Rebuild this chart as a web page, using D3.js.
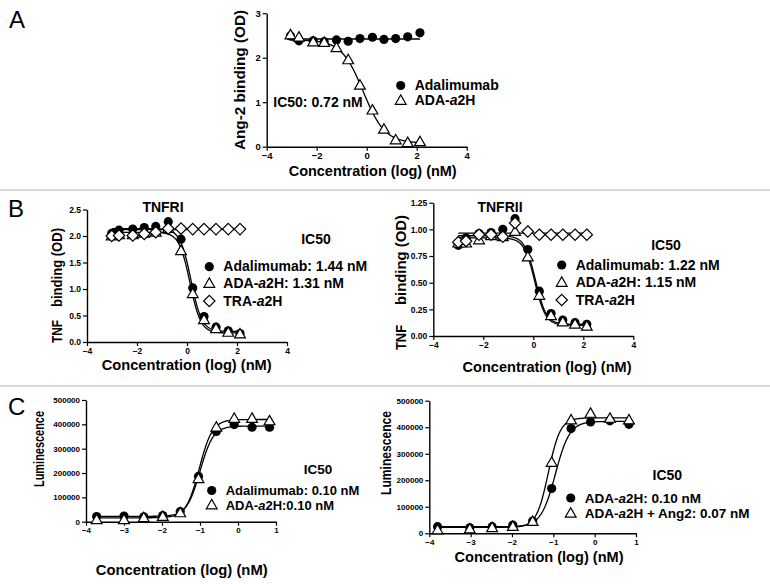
<!DOCTYPE html>
<html>
<head>
<meta charset="utf-8">
<script src="https://cdn.jsdelivr.net/npm/d3@7"></script>
<style>
  body { margin: 0; background: #fff; }
  text { font-family: "Liberation Sans", Arial, sans-serif; font-weight: bold; fill: #000; }
</style>
</head>
<body>
<svg id="fig" width="770" height="584"></svg>
<script>
// ---- data (log nM on x) ----

// A: Ang-2 binding
var concA = [-3.05, -2.71, -2.14, -1.70, -1.21, -0.74, -0.27, 0.23, 0.69, 1.16, 1.64, 2.13];
var adaA  = [2.49, 2.38, 2.38, 2.36, 2.40, 2.37, 2.43, 2.46, 2.41, 2.43, 2.47, 2.56];
var a2hA  = [2.51, 2.46, 2.35, 2.34, 2.22, 1.95, 1.38, 0.82, 0.39, 0.15, 0.09, 0.11];
// fit params: [bottom, top, logEC50, hill]
var fitAdaA = [2.42, 2.42, 0, 1];
var fitA2hA = [0.08, 2.40, -0.14, -1];

// B left: TNFRI
var concB1 = [-3.01, -2.72, -2.17, -1.71, -1.25, -0.75, -0.24, 0.23, 0.68, 1.16, 1.65, 2.12];
var adaB1  = [2.05, 2.11, 2.13, 2.16, 2.18, 2.27, 1.94, 1.02, 0.48, 0.28, 0.21, 0.16];
var a2hB1  = [2.00, 2.02, 2.02, 2.05, 2.07, 2.14, 1.72, 0.91, 0.42, 0.25, 0.18, 0.15];
var traB1  = [2.00, 2.01, 2.01, 2.04, 2.07, 2.14, 2.14, 2.13, 2.13, 2.13, 2.13, 2.13];
var fitAdaB1 = [0.20, 2.14, 0.158, -2];
var fitA2hB1 = [0.17, 2.07, 0.117, -2];
var fitTraB1 = [2.12, 2.12, 0, 1];

// B right: TNFRII
var concB2 = [-3.00, -2.69, -2.17, -1.69, -1.22, -0.73, -0.22, 0.24, 0.71, 1.18, 1.67, 2.14];
var adaB2  = [0.85, 0.92, 0.96, 0.97, 1.00, 1.10, 0.81, 0.42, 0.21, 0.15, 0.125, 0.11];
var a2hB2  = [0.87, 0.87, 0.90, 0.94, 0.93, 0.98, 0.74, 0.38, 0.19, 0.13, 0.11, 0.09];
var traB2  = [0.88, 0.89, 0.95, 0.95, 0.93, 1.06, 0.98, 0.95, 0.95, 0.95, 0.95, 0.95];
var fitAdaB2 = [0.11, 0.94, 0.086, -2];
var fitA2hB2 = [0.10, 0.92, 0.061, -2];
var fitTraB2 = [0.965, 0.965, 0, 1];

// C left: luminescence
var concC1 = [-3.72, -3.00, -2.48, -1.98, -1.52, -1.04, -0.57, -0.10, 0.37, 0.83];
var adaC1  = [21000, 23000, 20000, 25000, 42000, 186000, 371000, 399000, 388000, 388000];
var a2hC1  = [8000, 8000, 16000, 21000, 36000, 176000, 388000, 424000, 424000, 414000];
var fitAdaC1 = [22000, 393000, -1.0, 2.5];
var fitA2hC1 = [16000, 420000, -1.02, 2.5];

// C right
var concC2 = [-3.80, -3.02, -2.48, -1.98, -1.50, -1.04, -0.57, -0.10, 0.37, 0.83];
var a2hC2  = [25000, 21000, 25000, 31000, 46000, 169000, 395000, 420000, 424000, 411000];
var angC2  = [12500, 16000, 21000, 25000, 44000, 267000, 427000, 452000, 433000, 427000];
var fitA2hC2 = [25000, 422000, -0.95, 2.5];
var fitAngC2 = [22000, 435000, -1.12, 3];

var ticksB1 = [0, 0.5, 1.0, 1.5, 2.0, 2.5];
var ticksB2 = [0, 0.25, 0.5, 0.75, 1.0, 1.25];
var ticksC  = [0, 100000, 200000, 300000, 400000, 500000];

var svg = d3.select("#fig");

function logistic(p) {
  return function(x) { return p[0] + (p[1] - p[0]) / (1 + Math.pow(10, (p[2] - x) * p[3])); };
}

function marker(g, shape, x, y) {
  if (shape == "circle") {
    g.append("circle").attr("cx", x).attr("cy", y).attr("r", 4.6).attr("fill", "#000");
  } else if (shape == "triangle") {
    g.append("path").attr("d", "M" + x + "," + (y - 5.6) + "L" + (x + 5.4) + "," + (y + 3.8) + "L" + (x - 5.4) + "," + (y + 3.8) + "Z")
      .attr("fill", "#fff").attr("stroke", "#000").attr("stroke-width", 1.2);
  } else {
    g.append("path").attr("d", "M" + x + "," + (y - 5.7) + "L" + (x + 5.7) + "," + y + "L" + x + "," + (y + 5.7) + "L" + (x - 5.7) + "," + y + "Z")
      .attr("fill", "#fff").attr("stroke", "#000").attr("stroke-width", 1.2);
  }
}

function drawPanel(cfg) {
  var g = svg.append("g");
  var x = d3.scaleLinear().domain(cfg.xDomain).range(cfg.xRange);
  var y = d3.scaleLinear().domain(cfg.yDomain).range(cfg.yRange);

  var xAxis = g.append("g").attr("transform", `translate(0, ${cfg.yRange[0]})`)
    .call(d3.axisBottom(x).tickValues(cfg.xTicks).tickSize(4).tickSizeOuter(0).tickPadding(2).tickFormat(d3.format("d")));
  var yAxis = g.append("g").attr("transform", `translate(${cfg.xRange[0]}, 0)`)
    .call(d3.axisLeft(y).tickValues(cfg.yTicks).tickSize(4).tickSizeOuter(0).tickPadding(2).tickFormat(cfg.yFormat));
  [xAxis, yAxis].forEach(function(a) {
    a.select(".domain").attr("stroke-width", 1.4);
    a.selectAll(".tick line").attr("stroke-width", 1.2);
    a.selectAll("text").style("font-size", cfg.tickFont + "px").attr("font-family", null);
  });

  // fitted curves
  cfg.series.forEach(function(s) {
    var f = logistic(s.fit);
    var xs = d3.range(d3.min(cfg.conc), d3.max(cfg.conc) + 0.001, 0.02);
    g.append("path")
      .attr("d", d3.line().x(d => x(d)).y(d => y(f(d)))(xs))
      .attr("fill", "none").attr("stroke", "#000").attr("stroke-width", 1.3);
  });
  // points
  cfg.series.forEach(function(s) {
    s.values.forEach(function(v, i) { marker(g, s.shape, x(cfg.conc[i]), y(v)); });
  });

  // axis titles
  g.append("text").attr("x", cfg.xTitle[0]).attr("y", cfg.xTitle[1]).attr("text-anchor", "middle")
    .style("font-size", "15px").attr("textLength", cfg.xTitle[2]).attr("lengthAdjust", "spacingAndGlyphs")
    .text("Concentration (log) (nM)");
  cfg.yTitle.forEach(function(t) {
    g.append("text").attr("transform", `translate(${t[0]}, ${t[1]}) rotate(-90)`).attr("text-anchor", "middle")
      .style("font-size", t[4] + "px").attr("textLength", t[3]).attr("lengthAdjust", "spacingAndGlyphs").text(t[2]);
  });

  // legend
  cfg.legend.forEach(function(l) {
    marker(g, l.shape, l.x, l.y);
    var t = g.append("text").attr("x", l.x + 14).attr("y", l.y + 4.5).style("font-size", cfg.legendFont + "px");
    l.parts.forEach(function(p) {
      t.append("tspan").style("font-style", p[1] ? "italic" : "normal").text(p[0]);
    });
  });
  (cfg.notes || []).forEach(function(n) {
    g.append("text").attr("x", n[0]).attr("y", n[1]).attr("text-anchor", n[3] || "start")
      .style("font-size", n[4] + "px").text(n[2]);
  });
}

// separator lines
[190, 386].forEach(function(yy) {
  svg.append("line").attr("x1", 0).attr("x2", 770).attr("y1", yy).attr("y2", yy)
    .attr("stroke", "#cccccc").attr("stroke-width", 1.4);
});

// panel letters
[["A", 9, 28], ["B", 8, 217], ["C", 8, 415]].forEach(function(p) {
  svg.append("text").attr("x", p[1]).attr("y", p[2]).style("font-size", "24px").style("font-weight", "normal").text(p[0]);
});

drawPanel({
  conc: concA, xDomain: [-4, 4], xRange: [266.7, 466.7], yDomain: [0, 3], yRange: [146.7, 13.2],
  xTicks: [-4, -2, 0, 2, 4], yTicks: [0, 1, 2, 3], yFormat: d3.format("d"), tickFont: 9.5,
  series: [
    { values: adaA, fit: fitAdaA, shape: "circle" },
    { values: a2hA, fit: fitA2hA, shape: "triangle" }
  ],
  xTitle: [372.7, 176, 168], yTitle: [[245, 80, "Ang-2 binding (OD)", 140, 15]],
  legendFont: 14,
  legend: [
    { shape: "circle", x: 400.7, y: 85.5, parts: [["Adalimumab", false]] },
    { shape: "triangle", x: 400.7, y: 100.5, parts: [["ADA-", false], ["a", true], ["2H", false]] }
  ],
  notes: [[273.3, 106.7, "IC50: 0.72 nM", "start", 14]]
});

drawPanel({
  conc: concB1, xDomain: [-4, 4], xRange: [87, 287], yDomain: [0, 2.5], yRange: [342, 209.5],
  xTicks: [-4, -2, 0, 2, 4], yTicks: ticksB1, yFormat: d3.format(".1f"), tickFont: 8.5,
  series: [
    { values: adaB1, fit: fitAdaB1, shape: "circle" },
    { values: a2hB1, fit: fitA2hB1, shape: "triangle" },
    { values: traB1, fit: fitTraB1, shape: "diamond" }
  ],
  xTitle: [186.7, 370, 170], yTitle: [[61.5, 267.5, "binding (OD)", 79, 14.5], [61.5, 331.5, "TNF", 23, 14.5]],
  legendFont: 14,
  legend: [
    { shape: "circle", x: 209.3, y: 266.7, parts: [["Adalimumab: 1.44 nM", false]] },
    { shape: "triangle", x: 209.3, y: 283.5, parts: [["ADA-", false], ["a", true], ["2H: 1.31 nM", false]] },
    { shape: "diamond", x: 209.3, y: 301, parts: [["TRA-", false], ["a", true], ["2H", false]] }
  ],
  notes: [[163, 211.7, "TNFRI", "middle", 14], [316, 244.3, "IC50", "middle", 14]]
});

drawPanel({
  conc: concB2, xDomain: [-4, 4], xRange: [433.3, 633.3], yDomain: [0, 1.25], yRange: [336, 202.7],
  xTicks: [-4, -2, 0, 2, 4], yTicks: ticksB2, yFormat: d3.format(".2f"), tickFont: 8.5,
  series: [
    { values: adaB2, fit: fitAdaB2, shape: "circle" },
    { values: a2hB2, fit: fitA2hB2, shape: "triangle" },
    { values: traB2, fit: fitTraB2, shape: "diamond" }
  ],
  xTitle: [547, 372, 169], yTitle: [[406, 260, "binding (OD)", 90, 15], [406, 337.5, "TNF", 25, 15]],
  legendFont: 14,
  legend: [
    { shape: "circle", x: 561.7, y: 265, parts: [["Adalimumab: 1.22 nM", false]] },
    { shape: "triangle", x: 561.7, y: 282.5, parts: [["ADA-", false], ["a", true], ["2H: 1.15 nM", false]] },
    { shape: "diamond", x: 561.7, y: 300, parts: [["TRA-", false], ["a", true], ["2H", false]] }
  ],
  notes: [[500, 211.7, "TNFRII", "middle", 14], [666, 250, "IC50", "middle", 14]]
});

drawPanel({
  conc: concC1, xDomain: [-4, 1], xRange: [86, 276], yDomain: [0, 500000], yRange: [521.7, 400],
  xTicks: [-4, -3, -2, -1, 0, 1], yTicks: ticksC, yFormat: d3.format("d"), tickFont: 8,
  series: [
    { values: adaC1, fit: fitAdaC1, shape: "circle" },
    { values: a2hC1, fit: fitA2hC1, shape: "triangle" }
  ],
  xTitle: [181.7, 575, 172], yTitle: [[44, 449, "Luminescence", 76, 14]],
  legendFont: 13,
  legend: [
    { shape: "circle", x: 211.7, y: 490.5, parts: [["Adalimumab: 0.10 nM", false]] },
    { shape: "triangle", x: 211.7, y: 505, parts: [["ADA-", false], ["a", true], ["2H:0.10 nM", false]] }
  ],
  notes: [[318, 474.3, "IC50", "middle", 13.5]]
});

drawPanel({
  conc: concC2, xDomain: [-4, 1], xRange: [429.3, 636], yDomain: [0, 500000], yRange: [533.3, 400.7],
  xTicks: [-4, -3, -2, -1, 0, 1], yTicks: ticksC, yFormat: d3.format("d"), tickFont: 8,
  series: [
    { values: a2hC2, fit: fitA2hC2, shape: "circle" },
    { values: angC2, fit: fitAngC2, shape: "triangle" }
  ],
  xTitle: [539, 562, 169], yTitle: [[391, 453, "Luminescence", 84, 14]],
  legendFont: 13.5,
  legend: [
    { shape: "circle", x: 570.7, y: 498, parts: [["ADA-", false], ["a", true], ["2H: 0.10 nM", false]] },
    { shape: "triangle", x: 570.7, y: 513.3, parts: [["ADA-", false], ["a", true], ["2H + Ang2: 0.07 nM", false]] }
  ],
  notes: [[667.3, 480, "IC50", "middle", 14]]
});
</script>
</body>
</html>
